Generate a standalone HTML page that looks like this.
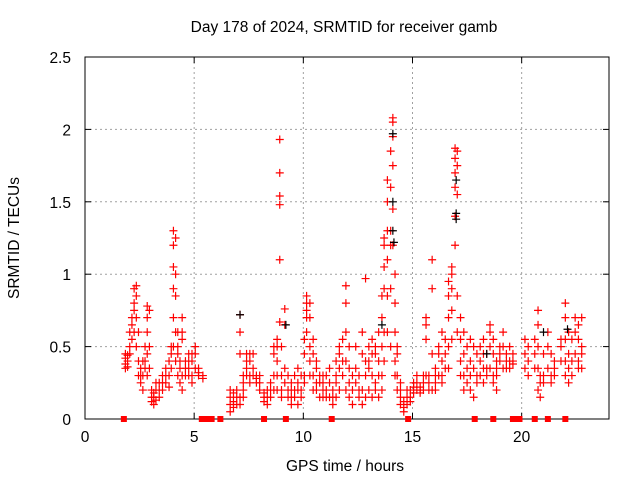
<!DOCTYPE html>
<html><head><meta charset="utf-8"><style>
body{margin:0;background:#fff;}
svg text{font-family:"Liberation Sans",sans-serif;font-size:15.5px;fill:#000;}
</style></head><body>
<svg id="chart" width="640" height="480" viewBox="0 0 640 480" xmlns="http://www.w3.org/2000/svg">
<text x="344" y="32" text-anchor="middle">Day 178 of 2024, SRMTID for receiver gamb</text>
<text x="345" y="471" text-anchor="middle">GPS time / hours</text>
<text transform="translate(19,238) rotate(-90)" text-anchor="middle">SRMTID / TECUs</text>
<g id="grid"></g>
<g id="axes"></g>
<g id="marks"></g>
</svg>
<script>
const xTicks=[0,5,10,15,20];
const yTicks=[0,0.5,1,1.5,2,2.5];
const yTickLabels=["0","0.5","1","1.5","2","2.5"];
const groupTimes=[1.85,1.95,2.05,2.15,2.25,2.35,2.45,2.55,2.65,2.75,2.85,2.95,3.05,3.15,3.25,3.4,3.55,3.7,3.85,3.95,4.05,4.15,4.25,4.35,4.45,4.6,4.75,4.9,5.05,5.2,5.4,
6.65,6.8,6.95,7.1,7.25,7.4,7.55,7.7,7.85,8.0,8.2,8.35,8.5,8.65,8.8,8.92,9.0,9.15,9.3,9.45,9.6,9.75,9.9,10.05,10.15,10.3,10.45,10.6,10.75,10.9,11.05,11.2,11.35,11.5,11.65,11.8,11.95,12.1,12.25,12.4,12.55,12.7,12.85,13.0,13.15,13.3,13.45,13.6,13.7,13.85,14.0,14.1,14.2,14.3,14.45,14.6,14.75,14.9,15.05,15.2,15.35,15.5,15.62,15.75,15.9,16.05,16.2,16.35,16.5,16.65,16.8,16.95,17.05,17.2,17.35,17.5,17.65,17.8,17.95,18.1,18.25,18.4,18.55,18.7,18.85,19.0,19.15,19.3,19.45,19.6,20.15,20.3,20.6,20.75,20.85,21.0,21.2,21.35,21.5,21.8,22.0,22.15,22.3,22.45,22.6,22.75];
const groupValues=[[.38,.42,.35,.45],[.4,.36,.44],[.5,.45,.6],[.55,.7,.65],[.8,.75,.9,.6],[.92,.85,.7,.5],[.6,.4,.3],[.35,.25,.3],[.2,.3,.4],[.35,.4,.5],[.78,.7,.6,.45,.3],[.75,.5,.35],[.15,.12,.2],[.1,.15,.18],[.13,.2,.25],[.15,.25,.2],[.2,.3,.25],[.25,.35,.3],[.3,.4,.22],[.45,.5,.35],[1.3,1.2,1.05,.9,.7,.5],[1.25,1.0,.85,.6,.4],[.6,.5,.45,.3],[.4,.35,.25],[.55,.6,.7,.3,.2],[.3,.35,.4],[.35,.4,.45,.3],[.45,.4,.3,.25],[.5,.45,.35],[.3,.35,.32],[.3,.28],
[.1,.15,.2,.05],[.08,.12,.18],[.1,.15,.2],[.72,.6,.45,.15,.1],[.15,.2,.25,.3],[.3,.4,.45,.35],[.45,.4,.3,.25],[.35,.3,.45],[.3,.25,.28],[.25,.2,.3],[.12,.15,.18],[.15,.2,.1],[.2,.25,.15],[.3,.45,.5,.2],[.55,.5,.4,.3,.2],[1.93,1.7,1.54,1.48,1.1,.67],[.3,.2,.15,.5],[.76,.65,.35,.25],[.2,.15,.3],[.1,.2,.15,.25],[.15,.3,.2],[.25,.35,.2,.1],[.2,.3,.15],[.3,.45,.55,.25],[.85,.8,.75,.7,.6],[.8,.7,.5,.4,.3],[.55,.45,.3,.2],[.4,.35,.25,.2],[.3,.25,.15],[.2,.3,.25,.15],[.2,.15,.3],[.25,.35,.15],[.15,.1,.2],[.25,.3,.4,.15],[.45,.5,.35,.2],[.55,.4,.3],[.92,.8,.6,.4,.2],[.5,.35,.25,.15],[.3,.2,.1],[.35,.5,.25],[.15,.2,.3],[.6,.45,.2,.1],[.97,.4,.3,.15],[.5,.4,.35,.2],[.45,.55,.3,.15],[.5,.45,.25,.2],[.6,.4,.3,.15],[.85,.7,.5,.3,.2],[1.25,1.2,1.05,.9,.6,.4],[1.65,1.5,1.3,1.1,.85,.6],[1.85,1.6,1.3,1.2,.9,.5],[2.08,2.05,1.95,1.75,1.45,1.2],[1.0,.8,.6,.4,.3],[.5,.45,.3,.2],[.15,.1,.2,.25],[.05,.08,.12],[.1,.15,.2],[.15,.2,.12],[.18,.22,.25],[.2,.25,.3],[.22,.2,.18],[.25,.3,.2],[.7,.65,.55,.3],[.25,.2,.3],[1.1,.9,.45,.2],[.3,.25,.35,.2],[.5,.45,.3],[.6,.4,.3,.25],[.55,.45,.35],[.95,.85,.7,.5,.35],[1.05,1.0,.9,.75,.55],[1.87,1.8,1.7,1.6,1.4,1.2],[1.85,1.75,1.55,.85,.6],[.7,.55,.4,.3],[.6,.45,.3,.2],[.5,.35,.25],[.55,.4,.3,.2],[.5,.35,.15],[.45,.3,.25],[.5,.4,.3],[.55,.45,.35,.25],[.45,.35,.3],[.65,.6,.5,.35],[.55,.45,.3,.25],[.4,.35,.3,.2],[.5,.45,.4],[.6,.5,.35],[.45,.4,.35],[.5,.4,.35],[.4,.45,.38],[.55,.45,.35],[.5,.4,.3],[.55,.45,.35],[.75,.65,.5,.35,.2],[.15,.3,.25],[.45,.3,.25],[.6,.5,.35],[.45,.3,.25],[.4,.35,.3],[.55,.5,.4],[.8,.7,.55,.4,.3],[.6,.45,.35,.25],[.55,.4,.3],[.7,.6,.45],[.65,.55,.4,.35],[.7,.5,.45,.35]];
const zeroTimes=[1.78,5.35,5.6,5.8,6.2,8.2,9.2,11.3,14.8,17.85,18.7,19.6,19.8,19.9,20.6,21.2,22.0];
const blackTimes=[7.1,9.2,13.6,14.1,14.1,14.1,14.15,17.0,17.0,17.0,18.4,21.0,22.1];
const blackValues=[0.72,0.65,0.65,1.97,1.5,1.3,1.22,1.65,1.42,1.38,0.45,0.6,0.62];

const L=85,R=609,T=57,B=419;
const xs=t=>L+(t/24)*(R-L);
const ys=v=>B-(v/2.5)*(B-T);
const NS="http://www.w3.org/2000/svg";
function mk(tag,attrs,parent){const e=document.createElementNS(NS,tag);for(const k in attrs)e.setAttribute(k,attrs[k]);parent.appendChild(e);return e;}
const grid=document.getElementById('grid'),axes=document.getElementById('axes'),marks=document.getElementById('marks');
xTicks.forEach(t=>{const x=xs(t);
 if(t>0){const g=mk('line',{x1:x,x2:x,y1:T,y2:B,stroke:'#a0a0a0','stroke-dasharray':'2,3'},grid);
 
 }
 mk('line',{x1:x,x2:x,y1:B,y2:B-6,stroke:'#000'},axes);
 mk('line',{x1:x,x2:x,y1:T,y2:T+6,stroke:'#000'},axes);
 const tx=mk('text',{x:x,y:B+23,'text-anchor':'middle'},axes);tx.textContent=t;
 
 
});
yTicks.forEach((v,i)=>{const y=ys(v);
 if(v>0&&v<2.5){const g=mk('line',{x1:L,x2:R,y1:y,y2:y,stroke:'#a0a0a0','stroke-dasharray':'2,3'},grid);
 
 }
 mk('line',{x1:L,x2:L+6,y1:y,y2:y,stroke:'#000'},axes);
 mk('line',{x1:R,x2:R-6,y1:y,y2:y,stroke:'#000'},axes);
 const tx=mk('text',{x:L-14,y:y+6,'text-anchor':'end'},axes);tx.textContent=yTickLabels[i];
 
 
});
const fr=mk('rect',{x:L,y:T,width:R-L,height:B-T,fill:'none',stroke:'#000'},axes);


function plus(x,y,c){const p=mk('path',{d:`M${x-4},${y}h8M${x},${y-4}v8`,stroke:c,'stroke-width':1.2,fill:'none'},marks);
 
 }
groupTimes.forEach((t,i)=>{groupValues[i].forEach(v=>plus(xs(t),ys(v),'#f00'));});
blackTimes.forEach((t,i)=>plus(xs(t),ys(blackValues[i]),'#000'));
zeroTimes.forEach(t=>{const r=mk('rect',{x:xs(t)-3,y:B-3,width:6,height:6,fill:'#f00'},marks);
 
 });
</script>
</body></html>
